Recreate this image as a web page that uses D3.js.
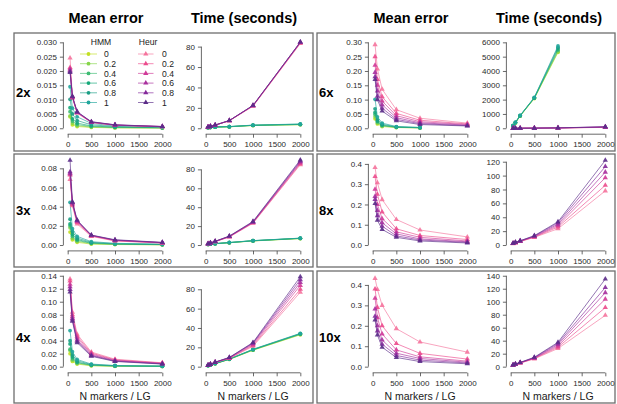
<!DOCTYPE html>
<html>
<head>
<meta charset="utf-8">
<script src="https://cdn.jsdelivr.net/npm/d3@7"></script>
<style>
  body { margin: 0; background: #fff; }
  svg { display: block; font-family: "Liberation Sans", Arial, sans-serif; }
</style>
</head>
<body>
<svg id="chart" width="617" height="404"></svg>
<script>
// x values shared by every panel
const nMarkers = [50, 100, 200, 500, 1000, 2000];
const weights = ['0', '0.2', '0.4', '0.6', '0.8', '1'];
const hmmColors = ['#c2df23', '#86d549', '#3fbc73', '#16a97a', '#1b9e85', '#22a69c'];
const heurColors = ['#f5749d', '#ec4c8d', '#d03a98', '#a9309e', '#84299b', '#5b2c88'];

// mean error, one row per weight (0 .. 1)
const err2xHMM = [
  [0.0040, 0.0012, 0.0006, 0.0003, 0.00012, 0.00005],
  [0.0043, 0.0018, 0.0009, 0.0004, 0.0002, 0.0001],
  [0.0058, 0.0025, 0.0013, 0.0006, 0.0003, 0.00015],
  [0.0072, 0.0033, 0.0018, 0.0008, 0.0004, 0.0002],
  [0.0101, 0.0050, 0.0027, 0.0012, 0.0006, 0.0003],
  [0.0145, 0.0070, 0.0040, 0.0017, 0.0008, 0.0004]
];
const err2xHeur = [
  [0.0245, 0.0108, 0.0053, 0.0020, 0.0010, 0.0005],
  [0.0212, 0.0106, 0.0054, 0.0021, 0.0011, 0.0005],
  [0.0208, 0.0108, 0.0055, 0.0021, 0.0011, 0.0006],
  [0.0203, 0.0110, 0.0056, 0.0022, 0.0011, 0.0006],
  [0.0198, 0.0111, 0.0057, 0.0022, 0.0012, 0.0006],
  [0.0195, 0.0112, 0.0058, 0.0023, 0.0012, 0.0006]
];
const err3xHMM = [
  [0.0135, 0.0055, 0.0028, 0.0010, 0.0005, 0.0002],
  [0.0180, 0.0070, 0.0038, 0.0014, 0.0007, 0.0003],
  [0.0200, 0.0090, 0.0048, 0.0018, 0.0009, 0.0004],
  [0.0220, 0.0110, 0.0058, 0.0022, 0.0011, 0.0005],
  [0.0270, 0.0140, 0.0072, 0.0028, 0.0014, 0.0007],
  [0.0445, 0.0170, 0.0090, 0.0035, 0.0018, 0.0009]
];
const err3xHeur = [
  [0.0685, 0.0410, 0.0220, 0.0090, 0.0042, 0.0020],
  [0.0730, 0.0420, 0.0235, 0.0095, 0.0045, 0.0022],
  [0.0740, 0.0430, 0.0245, 0.0098, 0.0048, 0.0024],
  [0.0750, 0.0440, 0.0250, 0.0100, 0.0050, 0.0025],
  [0.0765, 0.0445, 0.0255, 0.0102, 0.0052, 0.0026],
  [0.0885, 0.0450, 0.0260, 0.0104, 0.0055, 0.0028]
];
const err4xHMM = [
  [0.0200, 0.0080, 0.0040, 0.0014, 0.0006, 0.0003],
  [0.0250, 0.0100, 0.0050, 0.0018, 0.0008, 0.0004],
  [0.0270, 0.0120, 0.0060, 0.0022, 0.0010, 0.0005],
  [0.0350, 0.0150, 0.0070, 0.0027, 0.0012, 0.0006],
  [0.0400, 0.0180, 0.0090, 0.0033, 0.0015, 0.0008],
  [0.0555, 0.0230, 0.0110, 0.0040, 0.0018, 0.0010]
];
const err4xHeur = [
  [0.1350, 0.0840, 0.0500, 0.0225, 0.0115, 0.0060],
  [0.1320, 0.0800, 0.0470, 0.0210, 0.0105, 0.0055],
  [0.1270, 0.0770, 0.0440, 0.0195, 0.0098, 0.0050],
  [0.1230, 0.0740, 0.0410, 0.0180, 0.0090, 0.0047],
  [0.1190, 0.0720, 0.0390, 0.0170, 0.0085, 0.0043],
  [0.1150, 0.0700, 0.0370, 0.0160, 0.0080, 0.0040]
];
const err6xHMM = [
  [0.033, 0.015, 0.006, 0.0025, 0.0012],
  [0.040, 0.018, 0.008, 0.0030, 0.0015],
  [0.048, 0.022, 0.009, 0.0035, 0.0017],
  [0.055, 0.025, 0.011, 0.0040, 0.0020],
  [0.068, 0.030, 0.014, 0.0050, 0.0025],
  [0.101, 0.040, 0.018, 0.0060, 0.0030]
];
const err6xHeur = [
  [0.292, 0.207, 0.136, 0.065, 0.035, 0.018],
  [0.250, 0.170, 0.110, 0.052, 0.028, 0.015],
  [0.220, 0.150, 0.095, 0.044, 0.023, 0.013],
  [0.195, 0.130, 0.082, 0.037, 0.019, 0.011],
  [0.180, 0.112, 0.070, 0.031, 0.016, 0.009],
  [0.170, 0.100, 0.060, 0.026, 0.013, 0.008]
];
const err8xHeur = [
  [0.382, 0.307, 0.224, 0.126, 0.074, 0.040],
  [0.338, 0.250, 0.163, 0.080, 0.047, 0.027],
  [0.275, 0.200, 0.130, 0.065, 0.038, 0.020],
  [0.240, 0.170, 0.110, 0.055, 0.030, 0.016],
  [0.225, 0.145, 0.093, 0.045, 0.025, 0.013],
  [0.205, 0.122, 0.077, 0.038, 0.020, 0.010]
];
const err10xHeur = [
  [0.432, 0.378, 0.300, 0.186, 0.121, 0.071],
  [0.380, 0.290, 0.200, 0.113, 0.065, 0.037],
  [0.335, 0.240, 0.160, 0.082, 0.048, 0.027],
  [0.282, 0.200, 0.130, 0.066, 0.040, 0.022],
  [0.247, 0.175, 0.110, 0.055, 0.032, 0.018],
  [0.229, 0.155, 0.095, 0.045, 0.025, 0.014]
];

// run time in seconds
const time2xHMM = [
  [0.6, 0.8, 1.1, 1.4, 2.7, 3.5],
  [0.6, 0.8, 1.2, 1.5, 2.8, 3.6],
  [0.6, 0.8, 1.2, 1.5, 2.8, 3.7],
  [0.7, 0.9, 1.2, 1.6, 2.9, 3.8],
  [0.7, 0.9, 1.3, 1.6, 3.0, 4.0],
  [0.7, 0.9, 1.3, 1.7, 3.1, 4.2]
];
const time2xHeur = [
  [1.2, 1.8, 3.0, 7.3, 21.5, 83.0],
  [1.2, 1.8, 3.0, 7.4, 22.0, 83.5],
  [1.2, 1.9, 3.0, 7.5, 22.0, 84.0],
  [1.2, 1.9, 3.1, 7.5, 22.2, 84.0],
  [1.3, 1.9, 3.1, 7.6, 22.3, 84.5],
  [1.3, 2.0, 3.2, 7.6, 22.5, 84.5]
];
const time3xHMM = [
  [0.6, 0.9, 1.3, 2.4, 4.3, 6.8],
  [0.6, 0.9, 1.4, 2.5, 4.4, 6.9],
  [0.6, 0.9, 1.4, 2.5, 4.5, 7.0],
  [0.7, 1.0, 1.4, 2.6, 4.5, 7.1],
  [0.7, 1.0, 1.5, 2.6, 4.6, 7.2],
  [0.7, 1.0, 1.5, 2.7, 4.7, 7.3]
];
const time3xHeur = [
  [1.3, 2.0, 3.5, 8.5, 23.0, 85.0],
  [1.3, 2.1, 3.6, 8.7, 23.5, 86.0],
  [1.3, 2.1, 3.7, 8.9, 24.0, 87.0],
  [1.4, 2.2, 3.8, 9.1, 24.0, 88.0],
  [1.4, 2.2, 3.9, 9.3, 24.5, 89.0],
  [1.4, 2.3, 4.0, 9.5, 25.0, 90.0]
];
const time4xHMM = [
  [1.1, 1.7, 3.0, 7.5, 17.0, 33.0],
  [1.1, 1.7, 3.1, 7.6, 17.2, 33.3],
  [1.2, 1.8, 3.2, 7.7, 17.4, 33.6],
  [1.2, 1.8, 3.2, 7.8, 17.6, 33.9],
  [1.2, 1.9, 3.3, 7.9, 17.8, 34.2],
  [1.3, 1.9, 3.4, 8.0, 18.0, 34.5]
];
const time4xHeur = [
  [1.4, 2.4, 4.3, 8.5, 21.0, 77.0],
  [1.4, 2.4, 4.4, 8.7, 22.0, 80.0],
  [1.5, 2.5, 4.5, 9.0, 23.0, 84.0],
  [1.5, 2.5, 4.5, 9.2, 24.0, 87.0],
  [1.6, 2.6, 4.6, 9.4, 24.5, 90.0],
  [1.6, 2.6, 4.7, 9.6, 25.0, 93.0]
];
const time6xHMM = [
  [150, 370, 850, 2080, 5300],
  [160, 380, 860, 2100, 5350],
  [170, 390, 870, 2110, 5450],
  [180, 400, 880, 2120, 5550],
  [190, 410, 890, 2140, 5650],
  [200, 420, 900, 2160, 5750]
];
const time6xHeur = [
  [1.5, 2.5, 4.0, 8.0, 18, 60],
  [1.6, 2.6, 4.0, 9.0, 20, 70],
  [1.7, 2.7, 4.5, 9.5, 22, 78],
  [1.8, 2.8, 4.5, 10.0, 24, 85],
  [1.9, 2.9, 5.0, 10.5, 26, 95],
  [2.0, 3.0, 5.0, 11.0, 28, 105]
];
const time8xHeur = [
  [2.0, 3.0, 5.0, 11.0, 23.5, 78],
  [2.1, 3.2, 5.2, 11.5, 26.0, 86],
  [2.2, 3.4, 5.5, 12.0, 28.0, 97],
  [2.3, 3.6, 5.7, 12.5, 30.0, 105],
  [2.4, 3.8, 6.0, 13.0, 32.0, 113],
  [2.5, 4.0, 6.2, 13.5, 33.5, 122]
];
const time10xHeur = [
  [2.0, 3.5, 5.5, 12.0, 28.0, 79],
  [2.1, 3.6, 5.7, 12.5, 30.0, 91],
  [2.3, 3.8, 5.9, 13.0, 32.0, 104],
  [2.4, 3.9, 6.1, 13.5, 34.0, 114],
  [2.6, 4.1, 6.3, 14.0, 36.0, 122],
  [2.7, 4.2, 6.5, 14.5, 37.5, 135]
];

// axis limits and tick labels
const xTicks = [0, 500, 1000, 1500, 2000];
const errTicks2x = [0, 0.005, 0.010, 0.015, 0.020, 0.025, 0.030];
const errTicks3x = [0, 0.02, 0.04, 0.06, 0.08];
const errTicks4x = [0, 0.02, 0.04, 0.06, 0.08, 0.10, 0.12, 0.14];
const errTicks6x = [0, 0.05, 0.10, 0.15, 0.20, 0.25, 0.30];
const errTicks8x = [0, 0.1, 0.2, 0.3, 0.4];
const timeTicksLow = [0, 20, 40, 60, 80];
const timeTicks6x = [0, 1000, 2000, 3000, 4000, 5000, 6000];
const timeTicks8x = [0, 20, 40, 60, 80, 100, 120];
const timeTicks10x = [0, 20, 40, 60, 80, 100, 120, 140];

const svg = d3.select('#chart');

const rows = [
  { top: 38.9, bottom: 131.7, boxTop: 33, boxBottom: 151 },
  { top: 157.3, bottom: 248.4, boxTop: 154, boxBottom: 267 },
  { top: 272.1, bottom: 370.3, boxTop: 271, boxBottom: 403 }
];
const groups = [
  { dx: 0, boxLeft: 14, boxRight: 313 },
  { dx: 305, boxLeft: 317, boxRight: 615 }
];

const panels = [
  { label: '2x', g: 0, r: 0, hmmErr: err2xHMM, heurErr: err2xHeur, errMax: 0.030, errTicks: errTicks2x, errFmt: '.3f',
    hmmTime: time2xHMM, heurTime: time2xHeur, timeMax: 84.2, timeTicks: timeTicksLow, legend: true },
  { label: '3x', g: 0, r: 1, hmmErr: err3xHMM, heurErr: err3xHeur, errMax: 0.088, errTicks: errTicks3x, errFmt: '.2f',
    hmmTime: time3xHMM, heurTime: time3xHeur, timeMax: 89.2, timeTicks: timeTicksLow },
  { label: '4x', g: 0, r: 2, hmmErr: err4xHMM, heurErr: err4xHeur, errMax: 0.14, errTicks: errTicks4x, errFmt: '.2f',
    hmmTime: time4xHMM, heurTime: time4xHeur, timeMax: 94, timeTicks: timeTicksLow },
  { label: '6x', g: 1, r: 0, hmmErr: err6xHMM, heurErr: err6xHeur, errMax: 0.30, errTicks: errTicks6x, errFmt: '.2f',
    hmmTime: time6xHMM, heurTime: time6xHeur, timeMax: 6000, timeTicks: timeTicks6x },
  { label: '8x', g: 1, r: 1, hmmErr: [], heurErr: err8xHeur, errMax: 0.416, errTicks: errTicks8x, errFmt: '.1f',
    hmmTime: [], heurTime: time8xHeur, timeMax: 121.5, timeTicks: timeTicks8x },
  { label: '10x', g: 1, r: 2, hmmErr: [], heurErr: err10xHeur, errMax: 0.445, errTicks: errTicks8x, errFmt: '.1f',
    hmmTime: [], heurTime: time10xHeur, timeMax: 140, timeTicks: timeTicks10x }
];

// boxes and column titles
groups.forEach((g) => {
  rows.forEach((r) => {
    svg.append('rect')
      .attr('x', g.boxLeft).attr('y', r.boxTop)
      .attr('width', g.boxRight - g.boxLeft).attr('height', r.boxBottom - r.boxTop)
      .attr('fill', 'none').attr('stroke', '#6e6e6e').attr('stroke-width', 1.3);
  });
  svg.append('text').attr('x', 106 + g.dx).attr('y', 23)
    .attr('text-anchor', 'middle').attr('font-size', 14.5).attr('font-weight', 'bold')
    .text('Mean error');
  svg.append('text').attr('x', 244 + g.dx).attr('y', 23)
    .attr('text-anchor', 'middle').attr('font-size', 14.5).attr('font-weight', 'bold')
    .text('Time (seconds)');
});

function drawPanel(x0, r, yMax, ticks, fmt, hmm, heur, lastRow) {
  const x = d3.scaleLinear().domain([-80, 2080]).range([x0, x0 + 102.2]);
  const y = d3.scaleLinear().domain([-0.04 * yMax, 1.04 * yMax]).range([r.bottom, r.top]);
  const g = svg.append('g');
  const axisY = r.bottom + 2.5;

  const yAxis = g.append('g')
    .attr('transform', `translate(${x0 - 0.5},0)`)
    .call(d3.axisLeft(y).tickValues(ticks).tickFormat(d3.format(fmt)).tickSize(3.5).tickPadding(3));
  yAxis.select('.domain').remove();
  yAxis.append('line').attr('y1', y(ticks[0])).attr('y2', y(ticks[ticks.length - 1]))
    .attr('stroke', '#444').attr('stroke-width', 0.8);

  const xAxis = g.append('g')
    .attr('transform', `translate(0,${axisY})`)
    .call(d3.axisBottom(x).tickValues(xTicks).tickFormat(d3.format('d')).tickSize(3.5).tickPadding(4));
  xAxis.select('.domain').remove();
  xAxis.append('line').attr('x1', x(xTicks[0])).attr('x2', x(xTicks[xTicks.length - 1]))
    .attr('stroke', '#444').attr('stroke-width', 0.8);

  [yAxis, xAxis].forEach((a) => {
    a.selectAll('.tick line').attr('stroke', '#444').attr('stroke-width', 0.8);
    a.selectAll('.tick text').attr('fill', '#2a2a2a').attr('font-size', 8)
      .attr('font-family', '"Liberation Sans", Arial, sans-serif');
  });

  if (lastRow) {
    g.append('text').attr('x', (x(0) + x(2000)) / 2).attr('y', 400)
      .attr('text-anchor', 'middle').attr('font-size', 10.5).attr('fill', '#1a1a1a')
      .text('N markers / LG');
  }

  const line = d3.line().x((d, i) => x(nMarkers[i])).y((d) => y(d));
  const tri = d3.symbol().type(d3.symbolTriangle).size(12);

  hmm.forEach((s, k) => {
    g.append('path').attr('d', line(s)).attr('fill', 'none')
      .attr('stroke', hmmColors[k]).attr('stroke-width', 1).attr('stroke-opacity', 0.65);
    g.selectAll(null).data(s).enter().append('circle')
      .attr('cx', (d, i) => x(nMarkers[i])).attr('cy', (d) => y(d))
      .attr('r', 1.9).attr('fill', hmmColors[k]).attr('fill-opacity', 0.9);
  });
  heur.forEach((s, k) => {
    g.append('path').attr('d', line(s)).attr('fill', 'none')
      .attr('stroke', heurColors[k]).attr('stroke-width', 1).attr('stroke-opacity', 0.65);
    g.selectAll(null).data(s).enter().append('path')
      .attr('d', tri)
      .attr('transform', (d, i) => `translate(${x(nMarkers[i])},${y(d)})`)
      .attr('fill', heurColors[k]).attr('fill-opacity', 0.9);
  });
}

function drawLegend() {
  const lg = svg.append('g').attr('font-size', 8.6).attr('fill', '#222');
  lg.append('text').attr('x', 101).attr('y', 45).attr('text-anchor', 'middle').text('HMM');
  lg.append('text').attr('x', 148).attr('y', 45).attr('text-anchor', 'middle').text('Heur');
  const tri = d3.symbol().type(d3.symbolTriangle).size(12);
  weights.forEach((w, k) => {
    const yy = 54 + k * 9.7;
    lg.append('line').attr('x1', 80).attr('x2', 97).attr('y1', yy).attr('y2', yy)
      .attr('stroke', hmmColors[k]).attr('stroke-opacity', 0.65);
    lg.append('circle').attr('cx', 88.5).attr('cy', yy).attr('r', 1.9).attr('fill', hmmColors[k]);
    lg.append('text').attr('x', 104).attr('y', yy + 3.1).text(w);
    lg.append('line').attr('x1', 138).attr('x2', 153.5).attr('y1', yy).attr('y2', yy)
      .attr('stroke', heurColors[k]).attr('stroke-opacity', 0.65);
    lg.append('path').attr('d', tri).attr('transform', `translate(145.8,${yy})`).attr('fill', heurColors[k]);
    lg.append('text').attr('x', 162).attr('y', yy + 3.1).text(w);
  });
}

panels.forEach((p) => {
  const grp = groups[p.g];
  const r = rows[p.r];
  const lastRow = p.r === 2;
  drawPanel(63.9 + grp.dx, r, p.errMax, p.errTicks, p.errFmt, p.hmmErr, p.heurErr, lastRow);
  drawPanel(201.9 + grp.dx, r, p.timeMax, p.timeTicks, 'd', p.hmmTime, p.heurTime, lastRow);
  svg.append('text').attr('x', grp.boxLeft + 2).attr('y', (r.boxTop + r.boxBottom) / 2 + 4.6)
    .attr('font-size', 13).attr('font-weight', 'bold').text(p.label);
  if (p.legend) drawLegend();
});
</script>
</body>
</html>
